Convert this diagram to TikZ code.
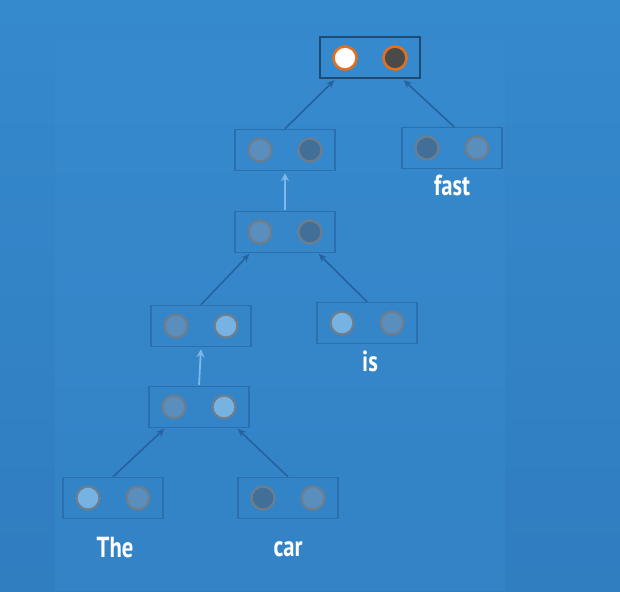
\documentclass[tikz,border=0pt]{standalone}
\usepackage{fontspec}
\setmainfont{PT Sans}
\newfontfamily\handfont[FakeStretch=0.78]{PT Sans Bold}
\usetikzlibrary{positioning,arrows.meta}
\definecolor{bgtop}{HTML}{3589CD}
\definecolor{bgbot}{HTML}{307DC0}
\definecolor{panel}{HTML}{388CCF}
\definecolor{boxline}{HTML}{2B6FAF}
\definecolor{topline}{HTML}{1F4A74}
\definecolor{dotline}{HTML}{6C7E8E}
\definecolor{linkcol}{HTML}{2762A0}
\definecolor{upcol}{HTML}{7DB8E6}
\definecolor{lite}{HTML}{76B2E2}
\definecolor{mid}{HTML}{5A8EBD}
\definecolor{dark}{HTML}{416F98}
\definecolor{tiporange}{HTML}{E2711F}
\definecolor{deepgrey}{HTML}{4A4A4A}

\tikzset{
	cell/.style={draw=boxline, line width=1.5pt, minimum width=100pt, minimum height=41pt, inner sep=0pt},
	dot/.style={circle, draw=dotline, line width=2.2pt, minimum size=23pt, inner sep=0pt},
	link/.style={draw=linkcol, line width=1.6pt, shorten >=1pt, -{Stealth[length=8pt,width=7pt]}},
	up/.style={draw=upcol, line width=1.8pt, shorten >=2pt, shorten <=1pt, -{Stealth[length=8pt,width=8pt]}},
	word/.style={text=white, inner sep=0pt, font=\handfont\fontsize{29}{32}\selectfont}
}
% a box with two units: name, x, y, left fill, right fill
\newcommand\unitbox[5]{%
	\node[cell] (#1) at (#2,#3) {};
	\node[dot, fill=#4, xshift=-25pt] (#1a) at (#1) {};
	\node[dot, fill=#5, xshift=25pt] (#1b) at (#1) {};
}

\begin{document}
\begin{tikzpicture}[x=1pt, y=-1pt]
	\shade[top color=bgtop, bottom color=bgbot] (0,0) rectangle (620,591);
	\fill[panel, opacity=0.4] (55,40) rectangle (505,591);
	\useasboundingbox (0,0) rectangle (620,591);

	% leaves
	\unitbox{w1}{113}{498}{lite}{mid}
	\unitbox{w2}{288}{498}{dark}{mid}
	\unitbox{w3}{367}{323}{lite}{mid}
	\unitbox{w4}{452}{148}{dark}{mid}
	% hidden states
	\unitbox{h1}{199}{407}{mid}{lite}
	\unitbox{h2}{201}{326}{mid}{lite}
	\unitbox{h3}{285}{232}{mid}{dark}
	\unitbox{h4}{285}{150}{mid}{dark}
	% output
	\node[cell, draw=topline, line width=2pt] (out) at (370,58) {};
	\node[dot, draw=tiporange, line width=2.6pt, fill=white, xshift=-25pt] (outa) at (out) {};
	\node[dot, draw=tiporange, line width=2.6pt, fill=deepgrey, xshift=25pt] (outb) at (out) {};

	\node[word] (The) at (115,548) {The};
	\node[word] (car) at (288,549) {car};
	\node[word] (is) at (370,361) {is};
	\node[word] (fast) at (452,185) {fast};

	\draw[link] (w1.north) -- ([xshift=-34pt]h1.south);
	\draw[link] (w2.north) -- ([xshift=38pt]h1.south);
	\draw[up] (h1.north) -- (h2.south);
	\draw[link] (h2.north) -- ([xshift=-35pt]h3.south);
	\draw[link] (w3.north) -- ([xshift=33pt]h3.south);
	\draw[up] (h3.north) -- (h4.south);
	\draw[link] (h4.north) -- ([xshift=-35pt]out.south);
	\draw[link] ([xshift=2pt]w4.north) -- ([xshift=33pt]out.south);
\end{tikzpicture}
\end{document}
